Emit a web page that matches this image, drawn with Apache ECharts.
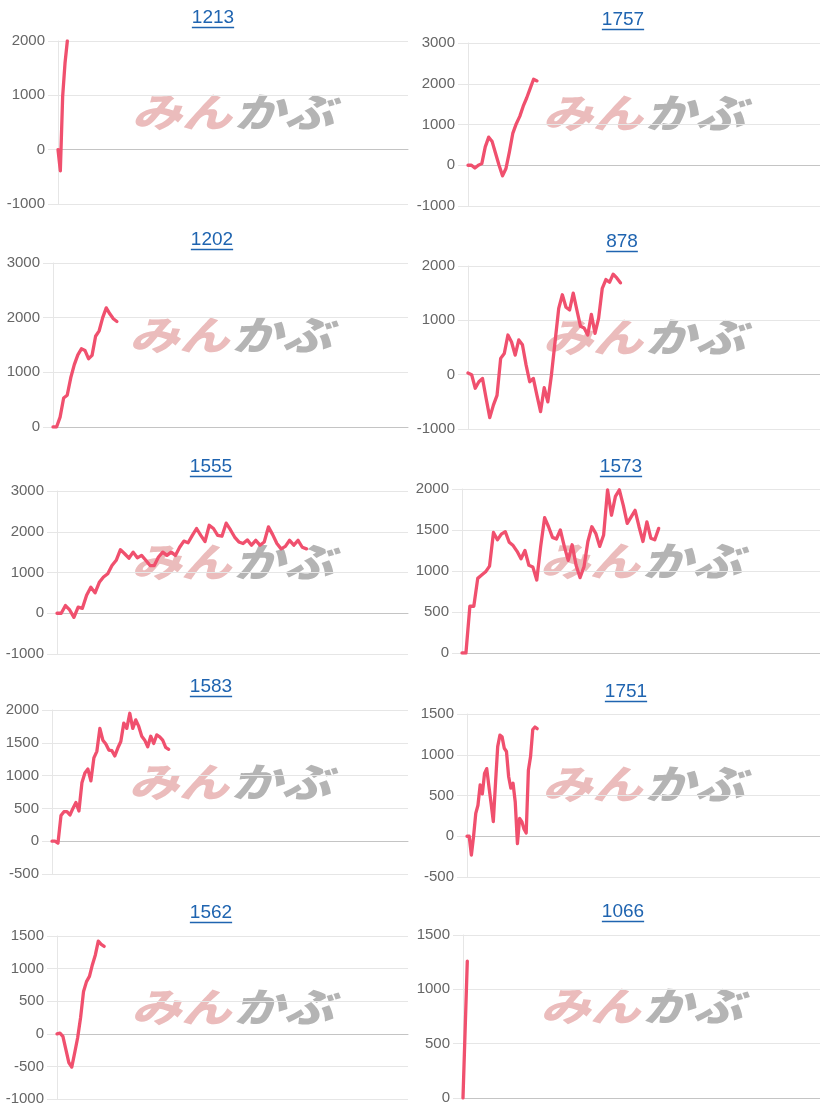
<!DOCTYPE html>
<html><head><meta charset="utf-8">
<script src="https://cdn.jsdelivr.net/npm/echarts@6/dist/echarts.min.js"></script>
<style>html,body{margin:0;padding:0;background:#fff}#c{width:820px;height:1115px}</style>
</head><body><div id="c"></div>
<script>
// ---- data ----
const titles = ['1213','1757','1202','878','1555','1573','1583','1751','1562','1066'];
const s1213 = [0, -390, 980, 1590, 2000];
const s1757 = [0, 0, -70, 0, 40, 450, 690, 580, 290, 0, -260, -80, 330, 790, 1020, 1200, 1450, 1650, 1880, 2110, 2070];
const s1202 = [0, 0, 180, 530, 580, 900, 1140, 1320, 1430, 1400, 1250, 1310, 1660, 1760, 2000, 2180, 2070, 1980, 1930];
const s878 = [30, 0, -250, -130, -70, -440, -790, -560, -380, 300, 390, 730, 600, 360, 640, 550, 180, -130, -70, -380, -680, -240, -500, 0, 610, 1220, 1470, 1240, 1190, 1500, 1190, 890, 860, 730, 1110, 760, 1040, 1590, 1750, 1700, 1850, 1780, 1690];
const s1555 = [0, 0, 190, 80, -100, 150, 120, 440, 640, 500, 760, 890, 970, 1170, 1300, 1560, 1460, 1350, 1500, 1360, 1420, 1300, 1170, 1170, 1380, 1500, 1420, 1500, 1420, 1620, 1770, 1730, 1910, 2080, 1910, 1760, 2160, 2080, 1910, 1890, 2210, 2050, 1870, 1750, 1710, 1800, 1670, 1790, 1670, 1750, 2120, 1930, 1710, 1580, 1640, 1790, 1670, 1790, 1620, 1580];
const s1573 = [0, 0, 570, 570, 910, 950, 990, 1060, 1470, 1380, 1450, 1480, 1350, 1310, 1240, 1150, 1250, 1070, 1050, 890, 1300, 1650, 1540, 1410, 1390, 1500, 1300, 1130, 1320, 1070, 920, 1050, 1360, 1540, 1460, 1300, 1440, 1990, 1680, 1910, 1990, 1800, 1580, 1660, 1740, 1540, 1360, 1600, 1400, 1380, 1520];
const s1583 = [0, 0, -30, 390, 450, 450, 400, 500, 590, 460, 890, 1040, 1100, 920, 1270, 1370, 1720, 1540, 1480, 1390, 1380, 1300, 1420, 1520, 1800, 1720, 1950, 1720, 1850, 1750, 1600, 1540, 1440, 1600, 1490, 1620, 1590, 1540, 1430, 1400];
const s1751 = [0, 0, -230, 0, 280, 380, 630, 520, 770, 830, 610, 400, 180, 650, 1100, 1240, 1220, 1080, 1040, 730, 590, 650, 420, -90, 220, 180, 90, 40, 810, 980, 1310, 1340, 1320];
const s1562 = [0, 10, -40, -240, -440, -510, -290, -60, 250, 650, 800, 880, 1060, 1210, 1420, 1370, 1340];
const s1066 = [0, 1260];
const seriesValues = [s1213, s1757, s1202, s878, s1555, s1573, s1583, s1751, s1562, s1066];
const yMin = [-1000, -1000, 0, -1000, -1000, 0, -500, -500, -1000, 0];
const yMax = [2000, 3000, 3000, 2000, 3000, 2000, 2000, 1500, 1500, 1500];
const yStep = [1000, 1000, 1000, 1000, 1000, 500, 500, 500, 500, 500];
const xMax = [150, 102, 100, 97, 83, 91, 119, 161, 119, 83];

// ---- layout (pixels) ----
const plotLeft   = [58, 468, 53, 468, 57, 462, 52, 467, 57, 463];
const plotTop    = [41, 43, 263, 266, 491, 489, 710, 714, 936, 935];
const plotBottom = [204, 206, 427, 429, 654, 653, 874, 877, 1099, 1098];
const plotRight  = [408, 820, 408, 820, 408, 820, 408, 820, 408, 820];
const titleX = [213, 623, 212, 622, 211, 621, 211, 626, 211, 623];
const titleY = [18, 20, 240, 242, 467, 467, 687, 692, 913, 912];
const markY  = [112, 113, 335, 337, 562, 561, 782, 784, 1007, 1006];

const LINE = '#f0506e', BLUE = '#1f64b0', GRID = '#e6e6e6';
const FONT = '"Liberation Sans", Arial, sans-serif';
const cv = document.createElement('canvas').getContext('2d');
cv.font = '19px ' + FONT;

const grids = [], xAxes = [], yAxes = [], series = [], graphics = [];
titles.forEach((t, i) => {
  grids.push({left: plotLeft[i], top: plotTop[i], width: plotRight[i] - plotLeft[i], height: plotBottom[i] - plotTop[i]});
  xAxes.push({type: 'value', gridIndex: i, min: 0, max: xMax[i],
    axisLine: {show: true, onZero: true, lineStyle: {color: '#c4c4c4', width: 1}},
    axisTick: {show: false}, axisLabel: {show: false}, splitLine: {show: false}});
  yAxes.push({type: 'value', gridIndex: i, min: yMin[i], max: yMax[i], interval: yStep[i],
    axisLine: {show: true, lineStyle: {color: GRID}},
    axisTick: {show: true, length: 10, lineStyle: {color: GRID}},
    axisLabel: {color: '#666', fontSize: 15, fontFamily: FONT, margin: 13, formatter: v => String(v)},
    splitLine: {show: true, lineStyle: {color: GRID, width: 1}}});
  series.push({type: 'line', xAxisIndex: i, yAxisIndex: i, z: 5,
    data: seriesValues[i].map((v, k) => [k, v]),
    showSymbol: false, smooth: false,
    lineStyle: {color: LINE, width: 3.3, join: 'round', cap: 'round'}, itemStyle: {color: LINE}});
  // title + underline
  const w = cv.measureText(t).width;
  graphics.push({type: 'text', x: titleX[i], y: titleY[i], z: 10,
    style: {text: t, fill: BLUE, fontSize: 19, fontFamily: FONT, align: 'center', verticalAlign: 'middle'}});
  graphics.push({type: 'line', z: 10, shape: {x1: titleX[i] - w / 2, y1: titleY[i] + 9.5, x2: titleX[i] + w / 2, y2: titleY[i] + 9.5},
    style: {stroke: BLUE, lineWidth: 1.5}});
  // watermark
  const cx = (plotLeft[i] + plotRight[i]) / 2;
  graphics.push({type: 'group', x: cx, y: markY[i], scaleX: 1.25, z: 1, silent: true, children: [
    {type: 'text', x: -1, y: 0, style: {text: 'みん', fill: '#ebbcbc', fontSize: 40, fontWeight: 900, fontStyle: 'italic',
      fontFamily: '"Noto Sans CJK JP", sans-serif', align: 'right', verticalAlign: 'middle'}},
    {type: 'text', x: 1, y: 0, style: {text: 'かぶ', fill: '#b4b4b4', fontSize: 40, fontWeight: 900, fontStyle: 'italic',
      fontFamily: '"Noto Sans CJK JP", sans-serif', align: 'left', verticalAlign: 'middle'}}
  ]});
});

const chart = echarts.init(document.getElementById('c'), null, {renderer: 'canvas'});
chart.setOption({
  animation: false,
  backgroundColor: '#fff',
  grid: grids, xAxis: xAxes, yAxis: yAxes, series: series,
  graphic: graphics
});
</script></body></html>
